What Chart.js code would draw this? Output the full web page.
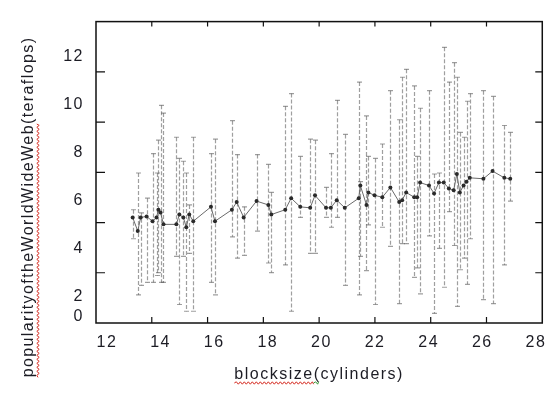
<!DOCTYPE html>
<html>
<head>
<meta charset="utf-8">
<title>blocksize vs popularity</title>
<script src="https://cdn.jsdelivr.net/npm/chart.js@4.4.1/dist/chart.umd.min.js"></script>
<style>
  html, body { margin: 0; padding: 0; background: #fff; }
  #wrap { width: 555px; height: 406px; position: relative; }
</style>
</head>
<body>
<div id="wrap"><canvas id="dataChart"></canvas></div>
<script>
// block size (cylinders) of each run
const blockSize = [
  12.96, 13.15, 13.26, 13.48, 13.70, 13.85, 13.92, 14.00, 14.11, 14.59,
  14.70, 14.85, 14.96, 15.07, 15.22, 15.88, 16.03, 16.66, 16.84, 17.10,
  17.58, 18.02, 18.13, 18.65, 18.87, 19.21, 19.58, 19.76, 20.17, 20.35,
  20.57, 20.87, 21.39, 21.45, 21.68, 21.75, 21.98, 22.27, 22.57, 22.90,
  23.01, 23.16, 23.46, 23.57, 23.68, 24.01, 24.20, 24.38, 24.56, 24.75,
  24.93, 25.05, 25.16, 25.30, 25.41, 25.53, 26.04, 26.38, 26.82, 27.04
];
// measured popularity (teraflops)
const popularity = [
  5.31, 4.74, 5.31, 5.35, 5.15, 5.31, 5.63, 5.51, 5.02, 5.02,
  5.43, 5.31, 4.90, 5.43, 5.15, 5.75, 5.15, 5.63, 5.95, 5.31,
  5.99, 5.83, 5.43, 5.63, 6.11, 5.75, 5.71, 6.23, 5.71, 5.71,
  6.03, 5.71, 6.11, 6.64, 5.83, 6.35, 6.23, 6.15, 6.56, 5.95,
  6.03, 6.35, 6.15, 6.15, 6.76, 6.64, 6.31, 6.76, 6.76, 6.52,
  6.44, 7.12, 6.35, 6.64, 6.80, 6.96, 6.92, 7.24, 6.96, 6.92
];
// lower and upper end of each error bar
const popLow = [
  4.42, 2.08, 2.48, 2.60, 2.60, 2.89, 3.01, 2.60, 2.60, 3.69,
  1.68, 3.69, 1.40, 3.81, 1.40, 2.60, 2.08, 4.50, 3.61, 3.73,
  4.74, 3.41, 3.01, 3.33, 1.40, 5.31, 3.81, 3.81, 5.31, 4.90,
  5.31, 2.48, 2.08, 3.69, 3.09, 5.00, 1.68, 4.90, 4.10, 1.72,
  4.22, 4.22, 2.81, 3.21, 2.12, 4.54, 1.31, 4.02, 2.40, 5.55,
  4.14, 1.60, 3.13, 3.61, 2.52, 4.42, 1.88, 1.72, 3.33, 5.99
];
const popHigh = [
  5.63, 7.16, 5.50, 6.11, 7.97, 7.16, 8.53, 9.98, 9.66, 8.65,
  7.77, 7.65, 7.16, 5.83, 8.65, 7.97, 8.57, 9.34, 7.93, 5.75,
  7.93, 7.52, 6.35, 9.94, 10.47, 7.85, 8.57, 8.53, 6.56, 7.97,
  10.19, 8.77, 10.95, 6.80, 9.54, 7.85, 7.77, 8.37, 10.59, 9.38,
  11.15, 11.48, 10.79, 7.85, 9.86, 10.59, 7.12, 7.16, 12.40, 10.95,
  11.76, 11.15, 8.85, 8.65, 10.15, 10.47, 10.59, 10.35, 9.14, 8.85
];

// tick labels; the '0' label sits a little above the bottom of the frame
const xTickValues = [12, 14, 16, 18, 20, 22, 24, 26, 28];
const yTickValues = [1.17, 2, 4, 6, 8, 10, 12];
const yTickLabels = ['0', '2', '4', '6', '8', '10', '12'];

const xTitle = 'blocksize(cylinders)';
const yTitle = 'popularityoftheWorldWideWeb(teraflops)';

const FONT = '"Liberation Sans", Arial, sans-serif';
const TEXT = '#1c1c24';

// little wavy underline, drawn along the current x axis
function squiggle(ctx, x0, x1, y) {
  ctx.beginPath();
  ctx.moveTo(x0, y);
  let up = true;
  for (let x = x0; x < x1; x += 2) {
    ctx.lineTo(Math.min(x + 2, x1), up ? y - 1.2 : y + 1.2);
    up = !up;
  }
  ctx.stroke();
}

const decorations = {
  id: 'decorations',
  beforeDraw(chart) {
    chart.ctx.letterSpacing = '1.5px';
  },
  beforeDatasetsDraw(chart) {
    const { ctx, scales: { x, y } } = chart;
    ctx.save();
    ctx.strokeStyle = 'rgba(95, 95, 95, 0.6)';
    ctx.lineWidth = 1.2;
    blockSize.forEach((b, i) => {
      const px = Math.round(x.getPixelForValue(b)) + 0.5;
      const top = y.getPixelForValue(popHigh[i]);
      const bottom = y.getPixelForValue(popLow[i]);
      ctx.setLineDash([4, 2]);
      ctx.beginPath();
      ctx.moveTo(px, top);
      ctx.lineTo(px, bottom);
      ctx.stroke();
      ctx.setLineDash([]);
      ctx.beginPath();
      ctx.moveTo(px - 2.5, top);
      ctx.lineTo(px + 2.5, top);
      ctx.moveTo(px - 2.5, bottom);
      ctx.lineTo(px + 2.5, bottom);
      ctx.stroke();
    });
    ctx.restore();
  },
  afterDraw(chart) {
    const { ctx, chartArea: a } = chart;
    const w = a.right - a.left;
    const h = a.bottom - a.top;
    ctx.save();
    ctx.letterSpacing = '0px';

    // frame with inward tick marks
    ctx.strokeStyle = '#111';
    ctx.lineWidth = 1.5;
    ctx.strokeRect(a.left, a.top, w, h);
    ctx.lineWidth = 1.2;
    ctx.beginPath();
    for (let i = 1; i < 8; i++) {
      const px = a.left + w * i / 8;
      ctx.moveTo(px, a.bottom);
      ctx.lineTo(px, a.bottom - 6);
      ctx.moveTo(px, a.top);
      ctx.lineTo(px, a.top + 5);
    }
    for (let i = 1; i < 6; i++) {
      const py = a.top + h * i / 6;
      ctx.moveTo(a.left, py);
      ctx.lineTo(a.left + 9, py);
      ctx.moveTo(a.right, py);
      ctx.lineTo(a.right - 7, py);
    }
    ctx.stroke();

    // y axis title, written bottom to top
    ctx.font = '16px ' + FONT;
    ctx.letterSpacing = '1.4px';
    ctx.fillStyle = TEXT;
    ctx.translate(33, 207);
    ctx.rotate(-Math.PI / 2);
    ctx.textAlign = 'center';
    ctx.textBaseline = 'alphabetic';
    ctx.fillText(yTitle, 0, 0);
    const yw = ctx.measureText(yTitle).width;
    const yw1 = ctx.measureText('popularityoftheWorldWideWeb').width;
    ctx.strokeStyle = '#d42a20';
    ctx.lineWidth = 1;
    squiggle(ctx, -yw / 2, -yw / 2 + yw1, 5);
    ctx.restore();

    // underline the first word of the x title
    ctx.save();
    ctx.font = '16px ' + FONT;
    ctx.letterSpacing = '1.5px';
    const xw = ctx.measureText(xTitle).width;
    const xw1 = ctx.measureText('blocksize').width;
    const x0 = (a.left + a.right) / 2 - xw / 2;
    ctx.strokeStyle = '#d42a20';
    ctx.lineWidth = 1;
    squiggle(ctx, x0, x0 + xw1, 383);
    ctx.strokeStyle = '#3a9a3a';
    squiggle(ctx, x0 + xw1, x0 + xw1 + 5, 383);
    ctx.restore();

    ctx.letterSpacing = '0px';
  }
};

const ctx = document.getElementById('dataChart').getContext('2d');

new Chart(ctx, {
  type: 'line',
  data: {
    datasets: [{
      data: blockSize.map((b, i) => ({ x: b, y: popularity[i] })),
      borderColor: '#6a6a6a',
      borderWidth: 1,
      pointRadius: 2,
      pointBackgroundColor: '#2a2a2a',
      pointBorderWidth: 0,
      tension: 0
    }]
  },
  options: {
    responsive: true,
    maintainAspectRatio: false,
    animation: false,
    layout: { padding: { left: 0, top: 12, right: 9, bottom: 0 } },
    plugins: {
      legend: { display: false },
      tooltip: { enabled: false }
    },
    scales: {
      x: {
        type: 'linear',
        min: 11.593,
        max: 28.235,
        grid: { display: false, drawTicks: false },
        border: { display: false },
        afterBuildTicks: axis => { axis.ticks = xTickValues.map(v => ({ value: v })) },
        afterFit: axis => { axis.height = 83 },
        ticks: {
          autoSkip: false,
          maxRotation: 0,
          padding: 10,
          color: TEXT,
          font: { family: FONT, size: 16 }
        },
        title: {
          display: true,
          text: xTitle,
          color: TEXT,
          font: { family: FONT, size: 16 },
          padding: { top: 0, bottom: 22 }
        }
      },
      y: {
        type: 'linear',
        min: 0.91,
        max: 13.47,
        grid: { display: false, drawTicks: false },
        border: { display: false },
        afterBuildTicks: axis => { axis.ticks = yTickValues.map(v => ({ value: v })) },
        afterFit: axis => { axis.width = 96 },
        ticks: {
          autoSkip: false,
          padding: 12,
          color: TEXT,
          font: { family: FONT, size: 16 },
          callback: (value, index) => yTickLabels[index]
        }
      }
    }
  },
  plugins: [decorations]
});
</script>
</body>
</html>
